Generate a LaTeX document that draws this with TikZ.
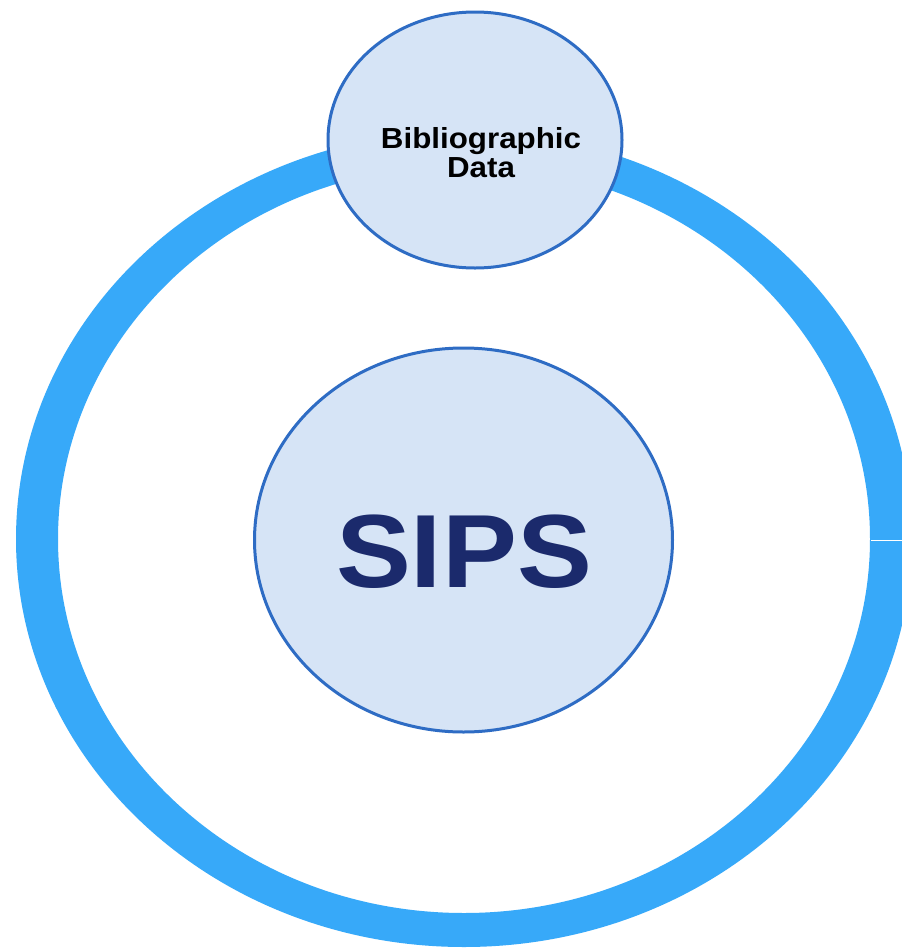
\documentclass[tikz,border=0pt]{standalone}
\usepackage{fontspec}
\setmainfont{Liberation Sans}
\newfontfamily\boldsans[FakeStretch=1.08]{Liberation Sans Bold}
\usetikzlibrary{shapes.geometric}
\definecolor{ringblue}{RGB}{55,169,249}
\definecolor{bubblefill}{RGB}{214,228,246}
\definecolor{bubbleline}{RGB}{46,108,196}
\definecolor{sipsnavy}{RGB}{27,42,108}
\tikzset{bubble/.style={ellipse, draw=bubbleline, line width=3pt, fill=bubblefill, inner sep=0pt, align=center}}
\begin{document}
\begin{tikzpicture}[x=1pt, y=-1pt]
\clip (0,0) rectangle (902,951);
\fill[white] (0,0) rectangle (902,951);
% outer ring
\fill[ringblue, even odd rule] (464,539) ellipse [x radius=448, y radius=408]
  (464,539) ellipse [x radius=406, y radius=374];
\draw[white, line width=1pt] (871,540) -- (902,540);

\node[bubble, minimum width=418pt, minimum height=384pt] (sips) at (463.5,540) {};
\node[text=sipsnavy, font={\fontsize{104}{110}\boldsans}, inner sep=0pt] (sipstext) at (464,552) {SIPS};
\node[bubble, minimum width=294pt, minimum height=256pt] (biblio) at (475,140) {};
\node[align=center, inner sep=0pt, font={\fontsize{29}{29}\boldsans}] (bibliotext) at (481,153)
  {Bibliographic\\Data};
\end{tikzpicture}
\end{document}
